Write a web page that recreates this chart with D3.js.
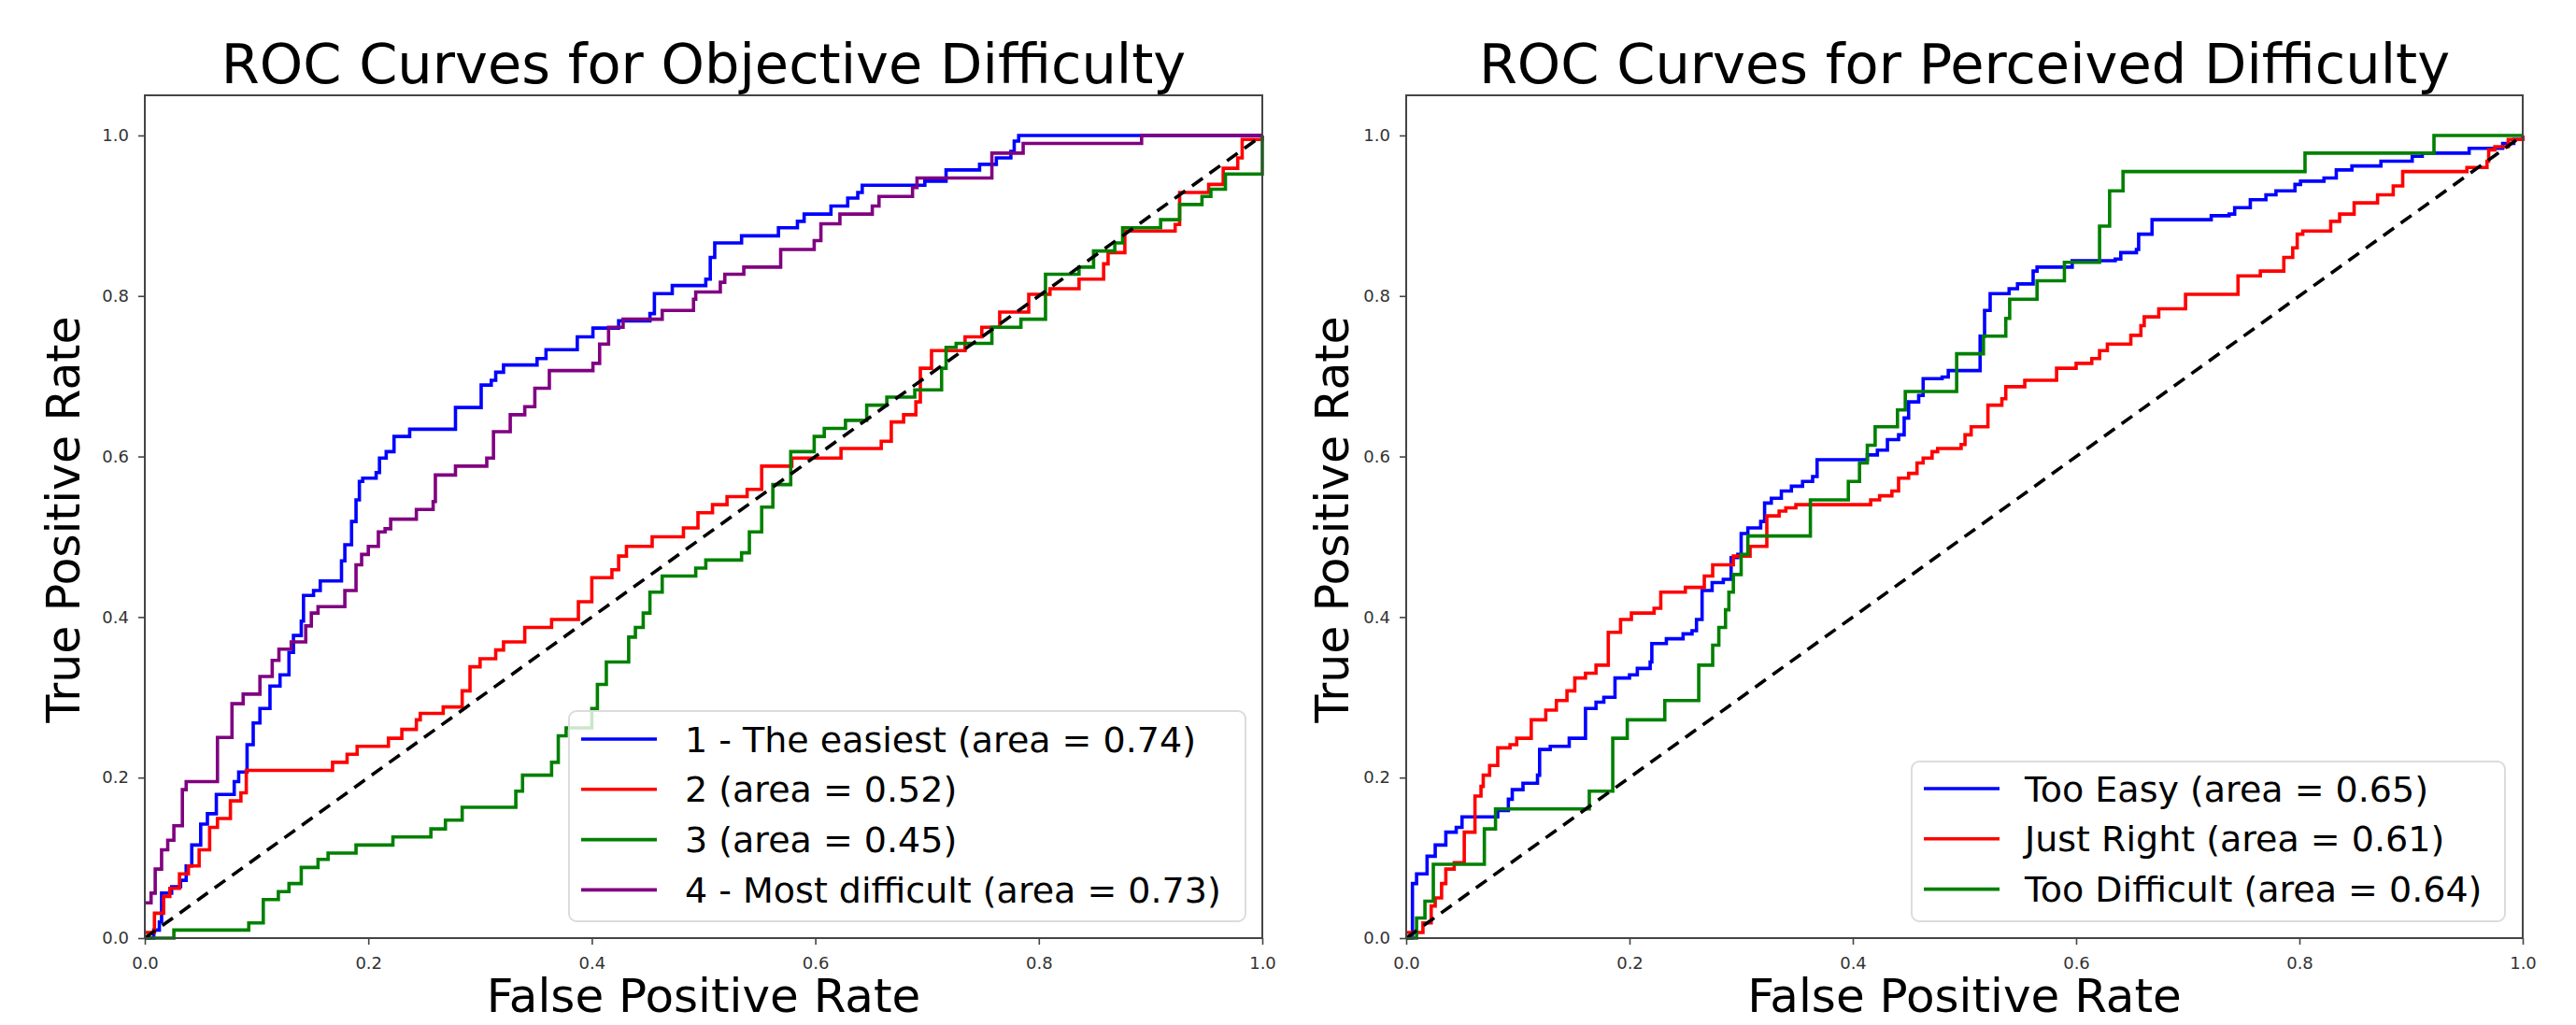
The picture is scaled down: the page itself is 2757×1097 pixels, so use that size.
<!DOCTYPE html>
<html><head><meta charset="utf-8">
<script src="https://cdn.jsdelivr.net/npm/d3@7"></script>
<style>body{margin:0;background:#fff} svg{display:block} text{font-family:"DejaVu Sans",sans-serif}</style>
</head><body><svg id="c" width="2757" height="1097"></svg>
<script>
// ---------- DATA (step points: at fpr x the curve rises to tpr y) ----------
const ticks = [0, 0.2, 0.4, 0.6, 0.8, 1.0];
const objTitle = "ROC Curves for Objective Difficulty";
const percTitle = "ROC Curves for Perceived Difficulty";
const objLabels = ["1 - The easiest (area = 0.74)", "2 (area = 0.52)", "3 (area = 0.45)", "4 - Most difficult (area = 0.73)"];
const percLabels = ["Too Easy (area = 0.65)", "Just Right (area = 0.61)", "Too Difficult (area = 0.64)"];
const objColors = ["#0000ff", "#ff0000", "#008000", "#800080"];
const percColors = ["#0000ff", "#ff0000", "#008000"];

const objEasy = [[0,0],[0.008,0.01],[0.013,0.02],[0.015,0.056],[0.024,0.064],[0.032,0.072],[0.037,0.09],[0.042,0.116],[0.05,0.142],[0.056,0.155],[0.064,0.179],[0.08,0.195],[0.084,0.207],[0.0915,0.241],[0.097,0.268],[0.103,0.286],[0.112,0.314],[0.121,0.328],[0.129,0.356],[0.133,0.377],[0.14,0.395],[0.142,0.427],[0.151,0.433],[0.157,0.445],[0.176,0.47],[0.179,0.49],[0.185,0.519],[0.189,0.546],[0.192,0.569],[0.195,0.573],[0.207,0.58],[0.21,0.598],[0.216,0.606],[0.223,0.625],[0.237,0.634],[0.278,0.661],[0.301,0.689],[0.31,0.695],[0.314,0.705],[0.321,0.714],[0.351,0.722],[0.359,0.733],[0.387,0.749],[0.401,0.76],[0.424,0.769],[0.452,0.778],[0.456,0.803],[0.472,0.813],[0.502,0.821],[0.506,0.848],[0.51,0.866],[0.534,0.875],[0.567,0.885],[0.584,0.893],[0.59,0.902],[0.614,0.912],[0.629,0.922],[0.638,0.929],[0.642,0.938],[0.698,0.943],[0.717,0.957],[0.747,0.964],[0.762,0.972],[0.775,0.98],[0.778,0.993],[0.782,1.0],[1.0,1.0]];
const objTwo = [[0,0.007],[0.0086,0.031],[0.0168,0.052],[0.0224,0.062],[0.031,0.08],[0.039,0.09],[0.0486,0.11],[0.058,0.138],[0.065,0.149],[0.0766,0.171],[0.086,0.181],[0.0908,0.209],[0.168,0.219],[0.181,0.229],[0.19,0.239],[0.218,0.249],[0.23,0.26],[0.243,0.272],[0.2465,0.28],[0.267,0.288],[0.284,0.308],[0.291,0.338],[0.3,0.348],[0.314,0.359],[0.321,0.369],[0.34,0.387],[0.364,0.397],[0.388,0.419],[0.4,0.449],[0.418,0.459],[0.424,0.476],[0.431,0.488],[0.454,0.5],[0.482,0.511],[0.495,0.53],[0.508,0.54],[0.521,0.55],[0.539,0.559],[0.552,0.588],[0.579,0.598],[0.623,0.61],[0.659,0.619],[0.668,0.643],[0.679,0.652],[0.69,0.668],[0.694,0.71],[0.704,0.732],[0.734,0.749],[0.749,0.761],[0.765,0.78],[0.791,0.802],[0.81,0.809],[0.836,0.821],[0.858,0.84],[0.862,0.854],[0.877,0.881],[0.922,0.889],[0.926,0.929],[0.952,0.939],[0.965,0.959],[0.978,0.972],[0.982,0.995],[1.0,1.0]];
const objThree = [[0,0],[0.026,0.01],[0.093,0.019],[0.106,0.048],[0.1195,0.058],[0.129,0.068],[0.14,0.088],[0.155,0.098],[0.164,0.106],[0.189,0.116],[0.222,0.126],[0.256,0.136],[0.269,0.147],[0.284,0.163],[0.332,0.183],[0.338,0.203],[0.364,0.219],[0.37,0.252],[0.377,0.262],[0.4,0.286],[0.405,0.316],[0.413,0.344],[0.433,0.375],[0.439,0.387],[0.446,0.405],[0.452,0.431],[0.463,0.451],[0.493,0.461],[0.502,0.471],[0.534,0.48],[0.541,0.506],[0.552,0.537],[0.562,0.565],[0.578,0.606],[0.599,0.625],[0.608,0.635],[0.627,0.645],[0.646,0.664],[0.664,0.674],[0.689,0.683],[0.713,0.71],[0.717,0.736],[0.726,0.741],[0.758,0.761],[0.784,0.771],[0.806,0.827],[0.836,0.836],[0.849,0.856],[0.868,0.866],[0.875,0.885],[0.909,0.895],[0.926,0.914],[0.946,0.924],[0.954,0.933],[0.967,0.952],[1.0,1.0]];
const objFour = [[0,0.044],[0.0056,0.056],[0.0093,0.086],[0.015,0.11],[0.0205,0.122],[0.026,0.14],[0.0336,0.185],[0.037,0.195],[0.065,0.25],[0.078,0.292],[0.088,0.304],[0.103,0.326],[0.114,0.346],[0.12,0.36],[0.131,0.369],[0.144,0.389],[0.149,0.405],[0.155,0.413],[0.179,0.433],[0.189,0.465],[0.194,0.478],[0.2,0.488],[0.209,0.506],[0.215,0.51],[0.22,0.522],[0.243,0.534],[0.258,0.544],[0.26,0.577],[0.278,0.588],[0.306,0.598],[0.312,0.631],[0.327,0.652],[0.34,0.662],[0.349,0.685],[0.362,0.707],[0.401,0.716],[0.407,0.74],[0.415,0.761],[0.428,0.771],[0.463,0.782],[0.491,0.796],[0.493,0.805],[0.515,0.817],[0.519,0.827],[0.536,0.836],[0.569,0.858],[0.599,0.869],[0.605,0.89],[0.622,0.902],[0.651,0.912],[0.657,0.924],[0.687,0.935],[0.691,0.947],[0.758,0.978],[0.786,0.99],[0.892,1.0],[1.0,1.0]];

const percEasy = [[0,0],[0.0056,0.068],[0.0093,0.08],[0.0187,0.102],[0.026,0.116],[0.0355,0.132],[0.0448,0.138],[0.05,0.151],[0.082,0.159],[0.0915,0.173],[0.095,0.185],[0.1046,0.193],[0.1176,0.203],[0.1195,0.235],[0.129,0.239],[0.146,0.249],[0.1606,0.286],[0.17,0.294],[0.177,0.3],[0.187,0.324],[0.2,0.328],[0.207,0.336],[0.2185,0.344],[0.22,0.367],[0.233,0.373],[0.248,0.379],[0.256,0.383],[0.26,0.397],[0.265,0.433],[0.274,0.443],[0.284,0.447],[0.291,0.474],[0.297,0.478],[0.3,0.504],[0.306,0.511],[0.3175,0.519],[0.321,0.542],[0.327,0.548],[0.336,0.557],[0.345,0.563],[0.355,0.569],[0.364,0.575],[0.368,0.596],[0.413,0.602],[0.422,0.608],[0.431,0.621],[0.441,0.627],[0.446,0.648],[0.45,0.668],[0.459,0.676],[0.463,0.697],[0.48,0.699],[0.4855,0.707],[0.514,0.75],[0.518,0.782],[0.523,0.803],[0.54,0.809],[0.5475,0.815],[0.5615,0.831],[0.565,0.836],[0.5965,0.844],[0.635,0.846],[0.64,0.854],[0.654,0.858],[0.656,0.877],[0.668,0.895],[0.721,0.9],[0.737,0.902],[0.742,0.91],[0.756,0.92],[0.77,0.926],[0.779,0.931],[0.796,0.939],[0.801,0.943],[0.822,0.947],[0.833,0.957],[0.847,0.962],[0.873,0.968],[0.901,0.974],[0.91,0.978],[0.952,0.984],[0.982,0.99],[0.992,0.995],[1.0,1.0]];
const percRight = [[0,0.007],[0.015,0.019],[0.0224,0.04],[0.026,0.05],[0.0317,0.068],[0.0355,0.086],[0.043,0.094],[0.052,0.132],[0.0616,0.177],[0.067,0.189],[0.069,0.203],[0.0747,0.215],[0.082,0.237],[0.093,0.241],[0.099,0.249],[0.112,0.272],[0.125,0.284],[0.1345,0.296],[0.144,0.308],[0.151,0.324],[0.1606,0.33],[0.17,0.34],[0.181,0.381],[0.192,0.397],[0.2017,0.405],[0.222,0.411],[0.228,0.431],[0.25,0.437],[0.267,0.451],[0.2745,0.465],[0.293,0.476],[0.308,0.488],[0.323,0.526],[0.334,0.532],[0.34,0.536],[0.349,0.54],[0.416,0.546],[0.424,0.551],[0.435,0.557],[0.441,0.573],[0.45,0.579],[0.4575,0.592],[0.463,0.598],[0.471,0.606],[0.476,0.61],[0.497,0.615],[0.5005,0.627],[0.506,0.637],[0.521,0.664],[0.5335,0.672],[0.537,0.687],[0.554,0.695],[0.5825,0.71],[0.6,0.716],[0.614,0.722],[0.621,0.732],[0.628,0.74],[0.649,0.751],[0.658,0.763],[0.661,0.774],[0.674,0.784],[0.698,0.802],[0.745,0.825],[0.765,0.831],[0.786,0.848],[0.794,0.86],[0.798,0.877],[0.803,0.881],[0.828,0.893],[0.836,0.902],[0.849,0.916],[0.87,0.926],[0.884,0.937],[0.8925,0.955],[0.95,0.96],[0.968,0.968],[0.9695,0.982],[0.975,0.986],[0.987,0.995],[1.0,1.0]];
const percHard = [[0,0],[0.0093,0.025],[0.0168,0.046],[0.0243,0.092],[0.07,0.136],[0.08,0.161],[0.164,0.183],[0.185,0.249],[0.198,0.272],[0.2316,0.296],[0.262,0.34],[0.2745,0.365],[0.28,0.387],[0.286,0.409],[0.289,0.431],[0.293,0.453],[0.3,0.478],[0.306,0.501],[0.362,0.546],[0.396,0.569],[0.406,0.592],[0.413,0.614],[0.42,0.637],[0.44,0.658],[0.447,0.681],[0.493,0.728],[0.517,0.75],[0.537,0.772],[0.5405,0.796],[0.565,0.819],[0.5895,0.842],[0.621,0.887],[0.63,0.931],[0.642,0.955],[0.805,0.978],[0.9205,1.0],[1.0,1.0]];
const diagonal = [[0,0],[1,1]];

// ---------- DRAWING ----------
const svg = d3.select("#c");
svg.append("rect").attr("width", 2757).attr("height", 1097).attr("fill", "#fff");

function panel(cfg) {
  const x = d3.scaleLinear().domain([0, 1]).range([cfg.x0, cfg.x1]);
  const y = d3.scaleLinear().domain([0, 1.05]).range([1004, 102]);
  const g = svg.append("g");

  const ax = g.append("g").attr("transform", "translate(0,1004)")
    .call(d3.axisBottom(x).tickValues(ticks).tickFormat(d3.format(".1f")).tickSize(7).tickSizeOuter(0).tickPadding(13));
  const ay = g.append("g").attr("transform", `translate(${cfg.x0},0)`)
    .call(d3.axisLeft(y).tickValues(ticks).tickFormat(d3.format(".1f")).tickSize(7).tickSizeOuter(0).tickPadding(10));
  [ax, ay].forEach(a => {
    a.select(".domain").remove();
    a.selectAll(".tick line").attr("stroke", "#444").attr("stroke-width", 1.6);
    a.selectAll(".tick text").attr("fill", "#333").style("font-size", "18px").style("font-family", "DejaVu Sans");
  });

  const line = d3.line().x(d => x(d[0])).y(d => y(d[1])).curve(d3.curveStepAfter);
  cfg.series.forEach((s, i) => {
    g.append("path").datum(s).attr("d", line).attr("fill", "none")
      .attr("stroke", cfg.colors[i]).attr("stroke-width", 3.6).attr("stroke-linejoin", "miter");
  });
  const dline = d3.line().x(d => x(d[0])).y(d => y(d[1]));
  g.append("path").datum(diagonal).attr("d", dline).attr("fill", "none")
    .attr("stroke", "#000").attr("stroke-width", 3.6).attr("stroke-dasharray", "14,9");

  g.append("rect").attr("x", cfg.x0).attr("y", 102).attr("width", cfg.x1 - cfg.x0).attr("height", 902)
    .attr("fill", "none").attr("stroke", "#444").attr("stroke-width", 2);

  g.append("text").attr("x", (cfg.x0 + cfg.x1) / 2).attr("y", 89).attr("text-anchor", "middle")
    .style("font-size", "59px").attr("fill", "#000").text(cfg.title);
  g.append("text").attr("x", (cfg.x0 + cfg.x1) / 2).attr("y", 1083).attr("text-anchor", "middle")
    .style("font-size", "50px").attr("fill", "#000").text("False Positive Rate");
  const cy = 556;
  g.append("text").attr("transform", `translate(${cfg.ylabX},${cy}) rotate(-90)`).attr("text-anchor", "middle")
    .attr("textLength", 435).attr("lengthAdjust", "spacingAndGlyphs")
    .style("font-size", "50px").attr("fill", "#000").text("True Positive Rate");

  const L = cfg.legend;
  const lg = g.append("g");
  lg.append("rect").attr("x", L.x0).attr("y", L.y0).attr("width", L.x1 - L.x0).attr("height", L.y1 - L.y0)
    .attr("rx", 8).attr("fill", "#fff").attr("fill-opacity", 0.8).attr("stroke", "#dcdcdc").attr("stroke-width", 2);
  cfg.labels.forEach((lab, i) => {
    const ry = L.row0 + i * 53.8;
    lg.append("line").attr("x1", L.hx0).attr("x2", L.hx0 + 81).attr("y1", ry).attr("y2", ry)
      .attr("stroke", cfg.colors[i]).attr("stroke-width", 3.6);
    lg.append("text").attr("x", L.tx).attr("y", ry + 13.5).style("font-size", "38px").attr("fill", "#000").text(lab);
  });
}

panel({x0: 155, x1: 1351, title: objTitle, ylabX: 85,
  series: [objEasy, objTwo, objThree, objFour], colors: objColors, labels: objLabels,
  legend: {x0: 609, x1: 1333, y0: 761, y1: 986, row0: 791, hx0: 622, tx: 733}});
panel({x0: 1505, x1: 2700, title: percTitle, ylabX: 1443,
  series: [percEasy, percRight, percHard], colors: percColors, labels: percLabels,
  legend: {x0: 2046, x1: 2681, y0: 815, y1: 986, row0: 844, hx0: 2059, tx: 2167}});
</script></body></html>
